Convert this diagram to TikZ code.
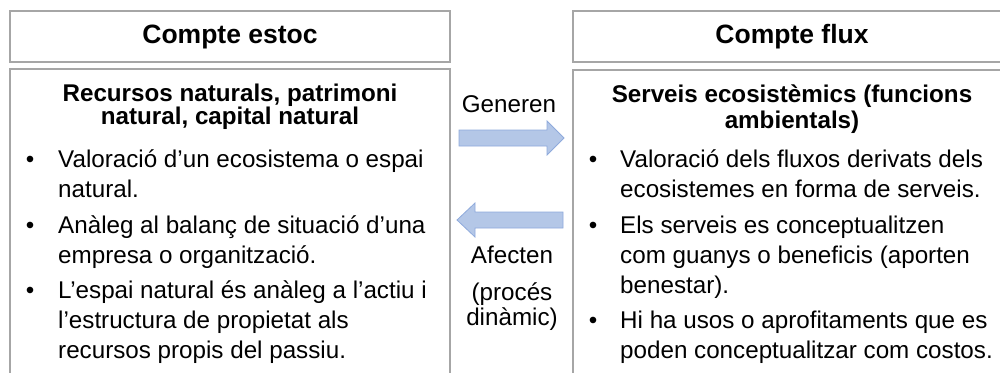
\documentclass[tikz,border=0pt]{standalone}
\usepackage{fontspec}
\setmainfont{Liberation Sans}
\definecolor{boxgray}{HTML}{A6A6A6}
\definecolor{arrfill}{HTML}{B4C7E7}
\definecolor{arrdraw}{HTML}{8FAADC}
\begin{document}
\begin{tikzpicture}[x=1pt,y=-1pt,
  panel/.style={draw=boxgray,line width=1.6pt,fill=white},
  head/.style={font={\fontsize{26.5}{30}\selectfont\bfseries}},
  ttl/.style={font={\fontsize{24.2}{23}\selectfont\bfseries},align=center,anchor=base,inner sep=0pt},
  txt/.style={font={\fontsize{24.2}{30}\selectfont},align=left,anchor=base west,inner sep=0pt},
  dot/.style={font={\fontsize{24.2}{30}\selectfont},anchor=base,inner sep=0pt},
  mid/.style={font={\fontsize{24.2}{25}\selectfont},align=center,anchor=base,inner sep=0pt},
  blockarrow/.style={fill=arrfill,draw=arrdraw,line width=0.8pt,line join=miter}]
\clip (0,0) rectangle (1000,372);
\fill[white] (0,0) rectangle (1000,372);
% panels
\draw[panel] (10,11) rectangle (450,62);
\draw[panel] (10,69) rectangle (450,390);
\draw[panel] (573,11) rectangle (1011,62);
\draw[panel] (573,70) rectangle (1011,390);
% headers
\node[head] (hl) at (230,36.5) {Compte estoc};
\node[head] (hr) at (792,36.5) {Compte flux};
% titles (anchor base = last line baseline)
\node[ttl] (tl) at (230,124) {Recursos naturals, patrimoni\\natural, capital natural};
\node[ttl, font={\fontsize{24.2}{26}\selectfont\bfseries}] (tr) at (792,128) {Serveis ecosistèmics (funcions\\ambientals)};
% left bullets
\node[dot] (lb1) at (30,167) {•};
\node[txt] (l1) at (58,197) {Valoració d’un ecosistema o espai\\natural.};
\node[dot] (lb2) at (30,233) {•};
\node[txt] (l2) at (58,263) {Anàleg al balanç de situació d’una\\empresa o organització.};
\node[dot] (lb3) at (30,298) {•};
\node[txt] (l3) at (58,358) {L’espai natural és anàleg a l’actiu i\\l’estructura de propietat als\\recursos propis del passiu.};
% right bullets
\node[dot] (rb1) at (593,167) {•};
\node[txt] (r1) at (620,197) {Valoració dels fluxos derivats dels\\ecosistemes en forma de serveis.};
\node[dot] (rb2) at (593,233) {•};
\node[txt] (r2) at (620,293) {Els serveis es conceptualitzen\\com guanys o beneficis (aporten\\benestar).};
\node[dot] (rb3) at (593,328) {•};
\node[txt] (r3) at (620,358) {Hi ha usos o aprofitaments que es\\poden conceptualitzar com costos.};
% middle labels
\node[mid] (gen) at (509,112) {Generen};
\node[mid] (afe) at (512,263) {Afecten};
\node[mid] (proc) at (512,325) {(procés\\dinàmic)};
% block arrows
\coordinate (g0) at (459,138);
\coordinate (g1) at (564,138);
\draw[blockarrow] (459,130) -- (547,130) -- (547,121) -- (g1) -- (547,155) -- (547,146) -- (459,146) -- cycle;
\coordinate (a0) at (563,220);
\coordinate (a1) at (457,220);
\draw[blockarrow] (563,212) -- (475,212) -- (475,203) -- (a1) -- (475,237) -- (475,228) -- (563,228) -- cycle;
\end{tikzpicture}
\end{document}
